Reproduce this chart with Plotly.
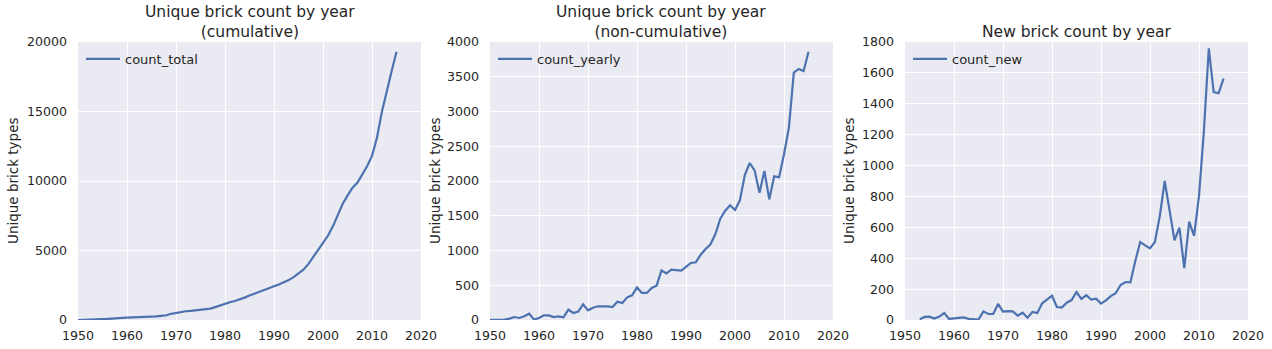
import plotly.graph_objects as go

# ---- data -------------------------------------------------------------
years_total = list(range(1950, 2016))
count_total = [
    0, 5, 10, 20, 40, 60, 75, 100, 140, 150,
    165, 180, 195, 205, 210, 215, 265, 300, 340, 445,
    520, 580, 630, 660, 700, 720, 770, 815, 925, 1060,
    1190, 1280, 1370, 1480, 1610, 1760, 1900, 2060, 2190, 2320,
    2430, 2560, 2700, 2870, 3080, 3340, 3620, 4020, 4550, 5060,
    5560, 6060, 6720, 7600, 8350, 8950, 9500, 9870, 10490, 11060,
    11800, 13100, 14950, 16500, 17900, 19300,
]

years_yearly = list(range(1950, 2016))
count_yearly = [
    3, 3, 3, 5, 20, 43, 29, 53, 91, 5,
    29, 67, 67, 43, 53, 38, 149, 101, 120, 225,
    139, 177, 197, 201, 197, 187, 264, 245, 326, 355,
    470, 389, 389, 460, 494, 715, 671, 724, 715, 710,
    763, 820, 830, 940, 1022, 1089, 1237, 1458, 1573, 1650,
    1583, 1722, 2086, 2259, 2153, 1832, 2144, 1736, 2067, 2053,
    2384, 2767, 3559, 3612, 3583, 3861,
]

years_new = list(range(1953, 2016))
count_new = [
    5, 20, 22, 10, 22, 45, 7,
    10, 17, 17, 7, 3, 3, 56, 39, 39, 104,
    54, 58, 56, 28, 47, 15, 52, 45, 108, 134,
    157, 84, 80, 112, 129, 181, 136, 160, 132, 138,
    106, 127, 155, 173, 227, 246, 244, 382, 505, 483,
    464, 505, 673, 900, 716, 516, 598, 335, 637, 544,
    803, 1224, 1759, 1476, 1468, 1563,
]

titles = ["Unique brick count by year<br>(cumulative)",
          "Unique brick count by year<br>(non-cumulative)",
          "New brick count by year"]
y_label = "Unique brick types"
x_ticks = [1950, 1960, 1970, 1980, 1990, 2000, 2010, 2020]

# ---- layout geometry (pixels) ----------------------------------------
W, H = 1272, 349
panels = [(78, 421), (490, 833), (905, 1248)]
label_offsets = [65, 55, 56]   # y-label centre, px left of each panel
top_px, bottom_px = 42, 320
y_dom = [(H - bottom_px) / H, (H - top_px) / H]

series = [
    (years_total, count_total, "count_total", 20000, 5000),
    (years_yearly, count_yearly, "count_yearly", 4000, 500),
    (years_new, count_new, "count_new", 1800, 200),
]

LINE = "#4C72B0"
BG = "#EAEAF2"
TXT = "#262626"
FONT = "DejaVu Sans"

fig = go.Figure()
annotations = []
layout_axes = {}

for i, ((x0, x1), (xs, ys, name, ymax, dy)) in enumerate(zip(panels, series)):
    n = "" if i == 0 else str(i + 1)
    legend_name = "legend" if i == 0 else f"legend{i + 1}"
    yticks = list(range(0, ymax + 1, dy))
    fig.add_trace(go.Scatter(
        x=xs, y=ys, mode="lines", name=name,
        line=dict(color=LINE, width=2.2),
        xaxis=f"x{n}", yaxis=f"y{n}", legend=legend_name,
        showlegend=True,
    ))
    layout_axes[f"xaxis{n}"] = dict(
        domain=[x0 / W, x1 / W], range=[1950, 2020],
        tickvals=x_ticks, ticktext=[str(t) for t in x_ticks],
        showgrid=True, gridcolor="white", gridwidth=1.3,
        zeroline=False, showline=False, ticks="",
        ticklabelstandoff=6, automargin=False,
        tickfont=dict(family=FONT, size=12.6, color=TXT),
        anchor=f"y{n}", fixedrange=True,
    )
    layout_axes[f"yaxis{n}"] = dict(
        domain=y_dom, range=[0, ymax],
        tickvals=yticks, ticktext=[str(t) for t in yticks],
        showgrid=True, gridcolor="white", gridwidth=1.3,
        zeroline=False, showline=False, ticks="",
        ticklabelstandoff=10, automargin=False,
        tickfont=dict(family=FONT, size=12.6, color=TXT),
        anchor=f"x{n}", fixedrange=True,
    )
    layout_axes[legend_name] = dict(
        x=(x0 + 3) / W, y=(H - top_px - 2) / H,
        xanchor="left", yanchor="top",
        bgcolor="rgba(0,0,0,0)", borderwidth=0,
        font=dict(family=FONT, size=13, color=TXT),
        itemwidth=34,
    )
    # panel title
    annotations.append(dict(
        text=titles[i], x=(x0 + x1) / 2 / W, y=(H - top_px - 1) / H,
        xref="paper", yref="paper", xanchor="center", yanchor="bottom",
        showarrow=False, align="center",
        font=dict(family=FONT, size=15.5, color=TXT),
    ))
    # y-axis label
    annotations.append(dict(
        text=y_label, x=(x0 - label_offsets[i]) / W,
        y=(H - (top_px + bottom_px) / 2) / H,
        xref="paper", yref="paper", xanchor="center", yanchor="middle",
        textangle=-90, showarrow=False,
        font=dict(family=FONT, size=13.5, color=TXT),
    ))

fig.update_layout(
    width=W, height=H,
    margin=dict(l=0, r=0, t=0, b=0, autoexpand=False),
    paper_bgcolor="white", plot_bgcolor=BG,
    annotations=annotations,
    **layout_axes,
)

fig.write_html("out.html", config={"displayModeBar": False})
